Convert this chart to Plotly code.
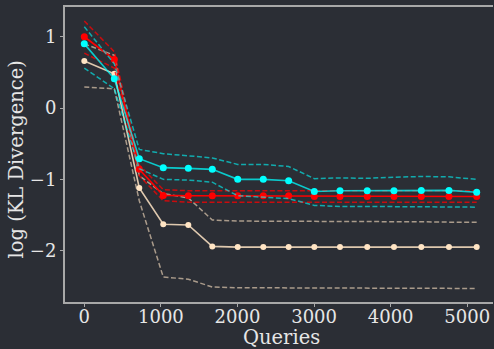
import plotly.graph_objects as go

queries = [0, 392, 718, 1031, 1358, 1671, 2003, 2337, 2668, 3003, 3338, 3694, 4043, 4400, 4761, 5123]

wheat_mean = [0.66, 0.48, -1.12, -1.63, -1.64, -1.94, -1.95, -1.95, -1.95, -1.95, -1.95, -1.95, -1.95, -1.95, -1.95, -1.95]
wheat_upper = [0.90, 0.74, -0.95, -1.20, -1.26, -1.57, -1.585, -1.585, -1.59, -1.59, -1.59, -1.59, -1.595, -1.595, -1.60, -1.60]
wheat_lower = [0.295, 0.27, -1.30, -2.37, -2.40, -2.51, -2.52, -2.52, -2.52, -2.52, -2.52, -2.525, -2.525, -2.53, -2.53, -2.53]

red_mean = [1.00, 0.68, -0.86, -1.225, -1.23, -1.23, -1.23, -1.23, -1.23, -1.24, -1.24, -1.24, -1.24, -1.24, -1.24, -1.24]
red_upper = [1.22, 0.79, -0.80, -1.145, -1.16, -1.16, -1.16, -1.16, -1.16, -1.16, -1.16, -1.16, -1.16, -1.16, -1.16, -1.16]
red_lower = [0.77, 0.56, -0.95, -1.30, -1.32, -1.32, -1.32, -1.32, -1.32, -1.32, -1.32, -1.32, -1.32, -1.32, -1.32, -1.32]

cyan_mean = [0.90, 0.41, -0.71, -0.836, -0.846, -0.86, -1.00, -1.00, -1.02, -1.17, -1.16, -1.16, -1.16, -1.155, -1.155, -1.18]
cyan_upper = [1.14, 0.62, -0.58, -0.64, -0.67, -0.70, -0.79, -0.79, -0.82, -0.99, -0.98, -0.985, -0.97, -0.96, -0.965, -1.00]
cyan_lower = [0.56, 0.27, -0.85, -1.00, -1.01, -1.04, -1.23, -1.25, -1.27, -1.365, -1.38, -1.38, -1.38, -1.38, -1.38, -1.39]

xtick_vals = [0, 1000, 2000, 3000, 4000, 5000]
xtick_text = ["0", "1000", "2000", "3000", "4000", "5000"]
ytick_vals = [1, 0, -1, -2]
ytick_text = ["1", "0", "\u22121", "\u22122"]

BG = "#2b2e35"
FONT = "DejaVu Serif"
TXT = "#e6e6e6"
DASH = "5px,2.5px"

series = [
    (wheat_mean, wheat_upper, wheat_lower, "255,228,196", 6, 0.85, 0.6),
    (red_mean, red_upper, red_lower, "255,0,0", 7, 1.0, 0.75),
    (cyan_mean, cyan_upper, cyan_lower, "0,255,255", 7, 0.75, 0.6),
]

fig = go.Figure()
for mean, up, lo, rgb, msize, la, da in series:
    for band in (up, lo):
        fig.add_trace(go.Scatter(
            x=queries, y=band, mode="lines",
            line=dict(color=f"rgba({rgb},{da})", width=1.5, dash=DASH),
            hoverinfo="skip", showlegend=False))
    fig.add_trace(go.Scatter(
        x=queries, y=mean, mode="lines+markers",
        line=dict(color=f"rgba({rgb},{la})", width=1.6),
        marker=dict(color=f"rgb({rgb})", size=msize, line=dict(width=0)),
        showlegend=False))

fig.update_layout(
    width=494, height=349,
    margin=dict(l=65, r=1, t=7, b=47),
    paper_bgcolor=BG, plot_bgcolor=BG,
    font=dict(family=FONT, size=18, color=TXT),
    showlegend=False,
    annotations=[
        dict(text="Queries", xref="paper", yref="paper", x=0.5, y=0,
             xanchor="center", yanchor="top", yshift=-22, xshift=2, showarrow=False,
             font=dict(family=FONT, size=19.5, color=TXT)),
        dict(text="log (KL Divergence)", xref="paper", yref="paper", x=0, y=0.5,
             xanchor="center", yanchor="middle", xshift=-49, yshift=-5, textangle=-90,
             showarrow=False, font=dict(family=FONT, size=19.5, color=TXT)),
    ],
)
fig.update_xaxes(
    range=[-252, 5336], tickvals=xtick_vals, ticktext=xtick_text,
    showgrid=False, zeroline=False,
    showline=True, linecolor="#a8a8a8", linewidth=2, mirror=True,
    ticks="outside", ticklen=3, tickcolor="#a8a8a8",
    ticklabelstandoff=-6,
)
fig.update_yaxes(
    range=[-2.72, 1.417], tickvals=ytick_vals, ticktext=ytick_text,
    showgrid=False, zeroline=False,
    showline=True, linecolor="#a8a8a8", linewidth=2, mirror=False,
    ticks="outside", ticklen=3, tickcolor="#a8a8a8",
)

fig.write_html("out.html")
